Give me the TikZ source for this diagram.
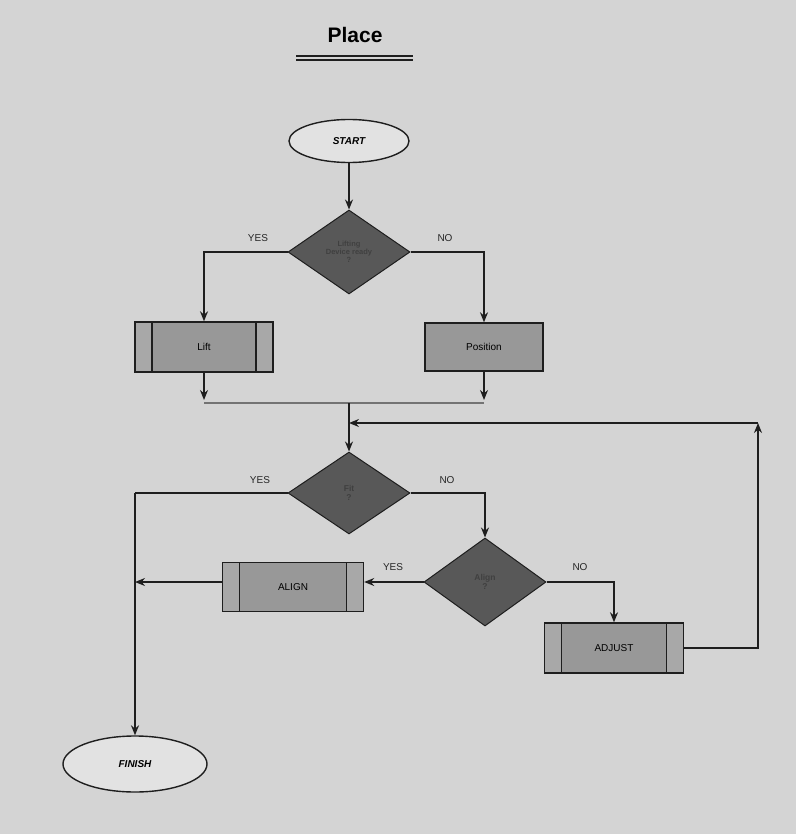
\documentclass[tikz,border=0pt]{standalone}
\usepackage{fontspec}
\setmainfont{Liberation Sans}
\usetikzlibrary{shapes.geometric,arrows.meta}
\definecolor{bgc}{RGB}{212,212,212}
\definecolor{dia}{RGB}{88,88,88}
\definecolor{boxc}{RGB}{152,152,152}
\definecolor{sidec}{RGB}{168,168,168}
\definecolor{ellc}{RGB}{226,226,226}
\definecolor{linec}{RGB}{30,30,30}
\tikzset{
  every node/.style={font=\fontsize{10}{11}\selectfont},
  terminal/.style={ellipse, draw=linec, line width=1.4pt, fill=ellc, inner sep=0pt,
    font=\fontsize{10}{11}\selectfont\bfseries\itshape},
  decision/.style={diamond, draw=linec, line width=1pt, fill=dia, inner sep=0pt,
    align=center, text=black!75, font=\fontsize{8.5}{9}\selectfont\bfseries},
  procbox/.style={rectangle, draw=linec, line width=1.4pt, fill=boxc, inner sep=0pt},
  predef/.style={procbox, path picture={
      \fill[sidec] (path picture bounding box.north west) rectangle ([xshift=17pt]path picture bounding box.south west);
      \fill[sidec] ([xshift=-17pt]path picture bounding box.north east) rectangle (path picture bounding box.south east);
      \draw[linec, line width=1.1pt] ([xshift=17pt]path picture bounding box.north west) -- ([xshift=17pt]path picture bounding box.south west);
      \draw[linec, line width=1.1pt] ([xshift=-17pt]path picture bounding box.north east) -- ([xshift=-17pt]path picture bounding box.south east);}},
  conn/.style={draw=linec, line width=1.4pt},
  arr/.style={conn, -{Stealth[length=10pt,width=8pt]}},
  lbl/.style={font=\fontsize{10}{11}\selectfont, text=black!85},
}
\begin{document}
\begin{tikzpicture}[x=1pt,y=-1pt]
\useasboundingbox[fill=bgc] (0,0) rectangle (796,834);
% title
\node[font=\fontsize{21}{24}\selectfont\bfseries] (title) at (355,35) {Place};
\draw[line width=1.3pt, linec] (296,56) -- (413,56);
\draw[line width=1.3pt, linec] (296,60) -- (413,60);
% nodes
\node[terminal, minimum width=120pt, minimum height=43pt] (start) at (349,141) {START};
\node[decision, minimum width=122pt, minimum height=84pt, font=\fontsize{7.5}{8}\selectfont\bfseries] (d1) at (349,252) {Lifting\\Device ready\\?};
\node[predef, minimum width=138pt, minimum height=50pt] (lift) at (204,347) {Lift};
\node[procbox, minimum width=118pt, minimum height=48pt] (pos) at (484,347) {Position};
\coordinate (jl) at (204,403);
\coordinate (jr) at (484,403);
\coordinate (jm) at (349,403);
\coordinate (ret) at (349,423);
\node[decision, minimum width=122pt, minimum height=82pt] (d2) at (349,493) {Fit\\?};
\node[decision, minimum width=122pt, minimum height=88pt] (d3) at (485,582) {Align\\?};
\node[predef, minimum width=141pt, minimum height=49pt] (align) at (293,587) {ALIGN};
\node[predef, minimum width=139pt, minimum height=50pt] (adjust) at (614,648) {ADJUST};
\coordinate (loopc) at (758,423);
\coordinate (leftc) at (135,493);
\coordinate (leftm) at (135,582);
\node[terminal, minimum width=144pt, minimum height=56pt] (finish) at (135,764) {FINISH};
% connectors
\draw[arr] (start) -- (d1);
\draw[arr] (d1.west) -| (lift.north);
\draw[arr] (d1.east) -| (pos.north);
\draw[arr] (lift.south) -- ([yshift=3pt]jl);
\draw[arr] (pos.south) -- ([yshift=3pt]jr);
\draw[draw=black!55, line width=1.4pt] (jl) -- (jr);
\draw[arr] (jm) -- (d2.north);
\draw[arr] (adjust.east) -| (loopc);
\draw[arr] (loopc) -- (ret);
\draw[conn] (d2.west) -- (leftc);
\draw[arr] (leftc) -- (finish.north);
\draw[arr] (d2.east) -| (d3.north);
\draw[arr] (d3.west) -- (d3.west -| align.east);
\draw[arr] (align.west |- d3.west) -- (leftm);
\draw[arr] (d3.east) -| (adjust.north);
% labels
\node[lbl] (y1) at (258,238) {YES};
\node[lbl] (n1) at (445,238) {NO};
\node[lbl] (y2) at (260,480) {YES};
\node[lbl] (n2) at (447,480) {NO};
\node[lbl] (y3) at (393,567) {YES};
\node[lbl] (n3) at (580,567) {NO};
\end{tikzpicture}
\end{document}
